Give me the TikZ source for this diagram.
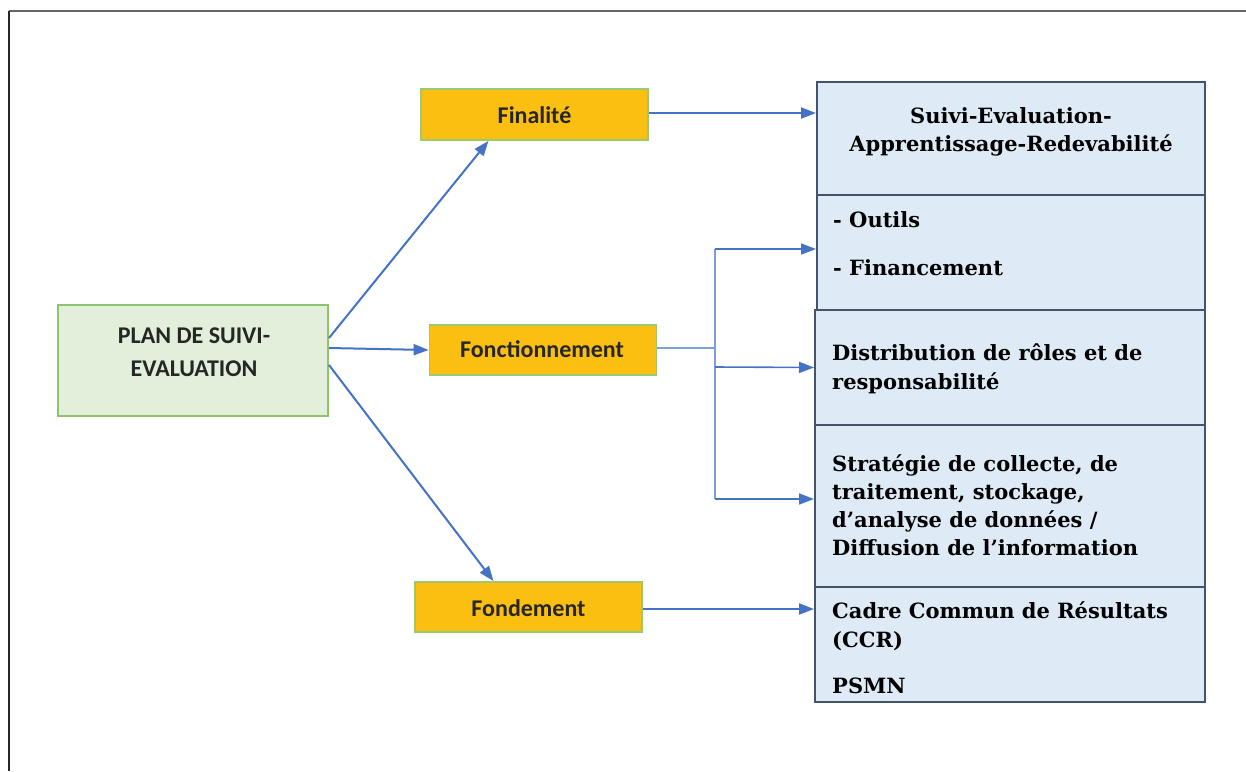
\documentclass[tikz,border=0pt]{standalone}
\usepackage{fontspec}
\setmainfont{Carlito}
\newfontfamily\boxfont{DejaVu Serif}
\usetikzlibrary{arrows.meta}
\definecolor{arrblue}{HTML}{4472C4}
\definecolor{branchblue}{HTML}{7F9FD9}
\definecolor{planfill}{HTML}{E2EFDA}
\definecolor{planline}{HTML}{8CC56B}
\definecolor{orangefill}{HTML}{FBBF12}
\definecolor{orangeline}{HTML}{9CC96E}
\definecolor{bluefill}{HTML}{DEEBF7}
\definecolor{blueline}{HTML}{44546A}
\tikzset{
  planbox/.style={draw=planline, fill=planfill, line width=2pt, minimum width=270pt, minimum height=111pt, inner sep=0pt},
  orangebox/.style={draw=orangeline, fill=orangefill, line width=1.8pt, minimum width=227pt, minimum height=50pt, inner sep=0pt},
  rbox/.style={draw=blueline, fill=bluefill, line width=2pt, minimum width=388pt, inner sep=0pt},
  lefttxt/.style={font=\fontsize{24}{33}\selectfont\bfseries, text=black!85, inner sep=0pt, anchor=base},
  orangetxt/.style={font=\fontsize{24}{30}\selectfont\bfseries, text=black!85, inner sep=0pt, anchor=base},
  rtxt/.style={font=\boxfont\bfseries\fontsize{21}{28}\selectfont, text=black, inner sep=0pt, anchor=base west},
  arr/.style={draw=arrblue, line width=2pt, -{Triangle[length=15pt,width=11pt]}},
  thinarr/.style={draw=arrblue, line width=1.6pt, -{Triangle[length=15pt,width=11pt]}},
  branch/.style={draw=branchblue, line width=1.3pt}
}
\begin{document}
\begin{tikzpicture}[x=1pt,y=-1pt]
\useasboundingbox (0,0) rectangle (1246,771);
% outer frame (top and left)
\draw[line width=2pt, draw=black!60] (9,11) -- (1246,11);
\draw[line width=2pt, draw=black!85] (9,11) -- (9,771);

% left nodes
\node[planbox] (plan) at (193,360.5) {};
\node[lefttxt] (plant1) at (194,343) {PLAN DE SUIVI-};
\node[lefttxt] (plant2) at (194,376) {EVALUATION};

\node[orangebox, minimum height=51pt] (fin) at (534.5,114.5) {};
\node[orangetxt] (fint) at (534.5,123) {Finalité};
\node[orangebox] (fon) at (543,350) {};
\node[orangetxt] (font) at (542,357) {Fonctionnement};
\node[orangebox] (fnd) at (528.5,607) {};
\node[orangetxt] (fndt) at (528.5,616) {Fondement};

% right boxes
\node[rbox, minimum height=113pt] (b1) at (1011,138.5) {};
\node[rbox, minimum height=115pt] (b2) at (1011,252.5) {};
\node[rbox, minimum height=115pt, minimum width=390pt] (b3) at (1010,367.5) {};
\node[rbox, minimum height=162pt, minimum width=390pt] (b4) at (1010,506) {};
\node[rbox, minimum height=115pt, minimum width=390pt] (b5) at (1010,644.5) {};

\node[rtxt, anchor=base] (b1t1) at (1011,123) {Suivi-Evaluation-};
\node[rtxt, anchor=base] (b1t2) at (1011,151) {Apprentissage-Redevabilité};
\node[rtxt] (b2t1) at (833,227) {-\ Outils};
\node[rtxt] (b2t2) at (833,275) {- Financement};
\node[rtxt] (b3t1) at (832,360) {Distribution de rôles et de};
\node[rtxt] (b3t2) at (832,389) {responsabilité};
\node[rtxt] (b4t1) at (832,471) {Stratégie de collecte, de};
\node[rtxt] (b4t2) at (832,499) {traitement, stockage,};
\node[rtxt] (b4t3) at (832,527) {d’analyse de données /};
\node[rtxt] (b4t4) at (832,555) {Diffusion de l’information};
\node[rtxt] (b5t1) at (832,618) {Cadre Commun de Résultats};
\node[rtxt] (b5t2) at (832,647) {(CCR)};
\node[rtxt] (b5t3) at (832,693) {PSMN};

% connectors from plan
\draw[arr] ([yshift=22.5pt]plan.east) -- ([xshift=-46pt]fin.south);
\draw[arr] ([yshift=12.5pt]plan.east) -- (fon.west);
\draw[arr] ([yshift=-4.5pt]plan.east) -- ([xshift=-35pt]fnd.north);

% finalité and fondement
\draw[arr] ([yshift=1.5pt]fin.east) -- ([yshift=1.5pt]fin.east -| b1.west);
\draw[arr] ([yshift=-2pt]fnd.east) -- ([yshift=-2pt]fnd.east -| b5.west);

% fonctionnement branch
\coordinate (bt) at (715,249);
\coordinate (bb) at (715,499);
\draw[branch] ([yshift=2pt]fon.east) -- ([yshift=2pt]fon.east -| bt);
\draw[branch] (bt) -- (bb);
\draw[thinarr] (bt) -- (bt -| b2.west);
\draw[thinarr] (715,367) -- (b3.west);
\draw[thinarr] (bb) -- (bb -| b4.west);
\end{tikzpicture}
\end{document}
